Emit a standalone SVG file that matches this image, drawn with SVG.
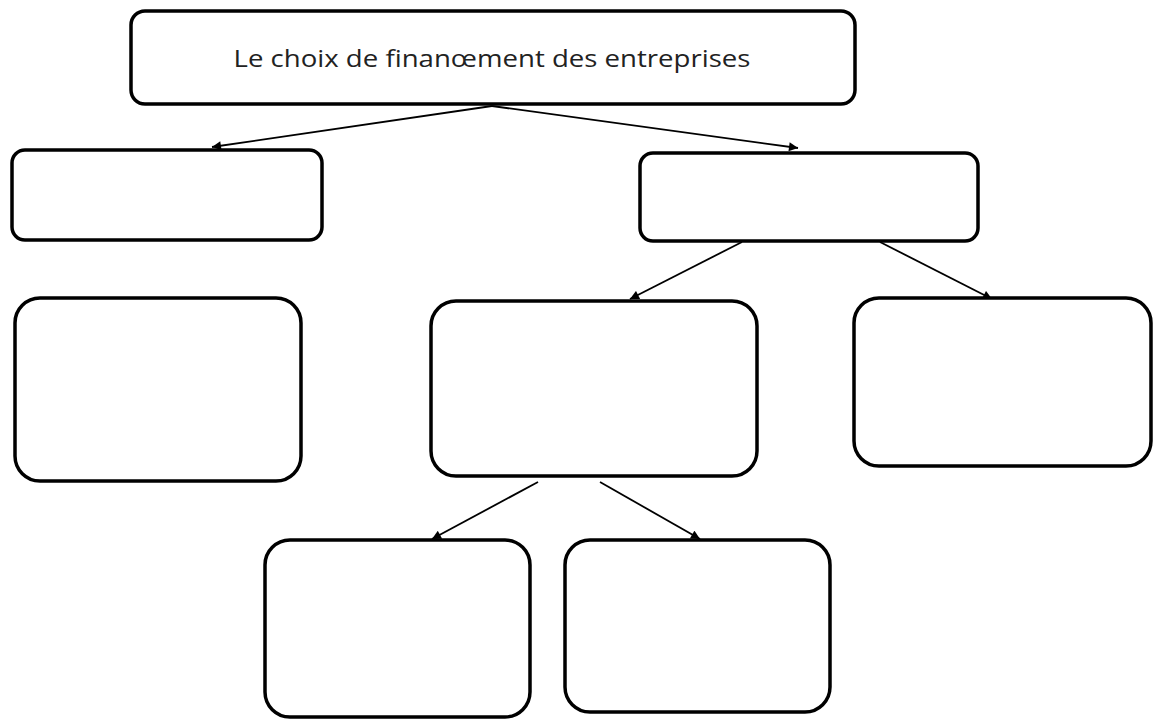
<svg xmlns="http://www.w3.org/2000/svg" width="1153" height="722" viewBox="0 0 1153 722">
<style>
.box{fill:#fff;stroke:#000;stroke-width:3.5}
.con{stroke:#000;stroke-width:1.8;fill:none}
.lbl{font-family:"Open Sans","Liberation Sans",sans-serif;font-size:23px;fill:#222}
</style>
<defs>
<marker id="ah" viewBox="0 0 10 10" refX="10" refY="5" markerWidth="10" markerHeight="9" markerUnits="userSpaceOnUse" orient="auto"><path d="M0,0 L10,5 L0,10 z" fill="#000"/></marker>
</defs>
<rect width="1153" height="722" fill="#fff"/>
<g id="connectors">
<line class="con" x1="492" y1="106" x2="212" y2="147" marker-end="url(#ah)"/>
<line class="con" x1="492" y1="106" x2="798" y2="148" marker-end="url(#ah)"/>
<line class="con" x1="742" y1="242" x2="630" y2="299" marker-end="url(#ah)"/>
<line class="con" x1="880" y1="242" x2="992" y2="299" marker-end="url(#ah)"/>
<line class="con" x1="538" y1="482" x2="432" y2="539" marker-end="url(#ah)"/>
<line class="con" x1="600" y1="482" x2="700" y2="539" marker-end="url(#ah)"/>
</g>
<g id="n-root"><rect class="box" x="131" y="11" width="724" height="93" rx="14"/>
<text class="lbl" x="492" y="67" text-anchor="middle" textLength="517" lengthAdjust="spacingAndGlyphs">Le choix de finanœment des entreprises</text></g>
<g id="n-left"><rect class="box" x="12" y="150" width="310" height="90" rx="13"/></g>
<g id="n-right"><rect class="box" x="640" y="153" width="338" height="88" rx="13"/></g>
<g id="n-a"><rect class="box" x="15" y="298" width="286" height="183" rx="25"/></g>
<g id="n-b"><rect class="box" x="431" y="301" width="326" height="175" rx="25"/></g>
<g id="n-c"><rect class="box" x="854" y="298" width="297" height="168" rx="25"/></g>
<g id="n-d"><rect class="box" x="265" y="540" width="265" height="177" rx="25"/></g>
<g id="n-e"><rect class="box" x="565" y="540" width="265" height="172" rx="25"/></g>
</svg>
